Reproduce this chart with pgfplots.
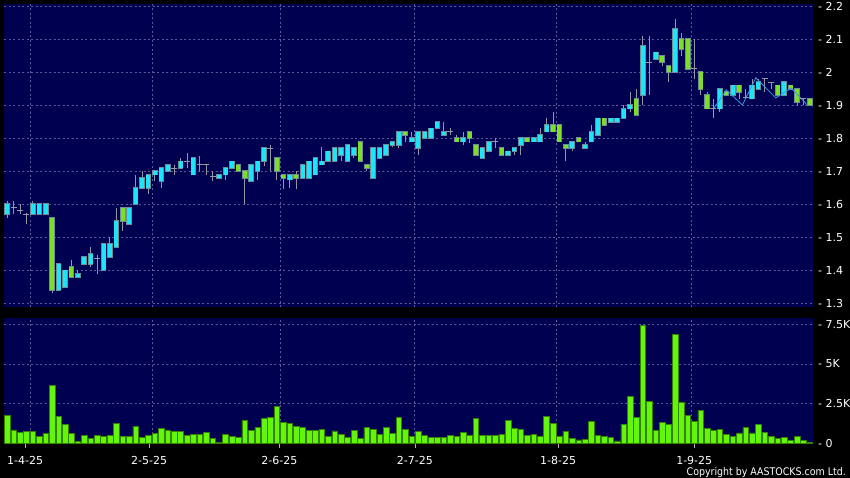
\documentclass[border=0pt]{standalone}
\usepackage{pgfplots}
\pgfplotsset{compat=1.18}
\usepackage{pgfplotstable}
\usepackage{fontspec}
\usepackage{graphicx}
\setmainfont{DejaVu Sans}
\definecolor{navy}{RGB}{0,0,80}
\definecolor{gridc}{RGB}{90,90,155}
\definecolor{cyanfill}{RGB}{30,228,248}
\definecolor{greenfill}{RGB}{125,222,40}
\definecolor{boxedge}{RGB}{110,140,150}
\definecolor{wick}{RGB}{150,150,165}
\definecolor{volfill}{RGB}{100,245,10}
\definecolor{voledge}{RGB}{50,130,0}
\definecolor{linec}{RGB}{60,150,230}

\pgfplotstableread{
i l h
0 1.56 1.61
1 1.57 1.61
2 1.57 1.60
3 1.54 1.575
4 1.57 1.61
5 1.57 1.60
6 1.57 1.60
7 1.33 1.56
8 1.34 1.42
9 1.35 1.40
10 1.38 1.43
11 1.38 1.40
12 1.42 1.44
13 1.41 1.47
14 1.39 1.445
15 1.40 1.48
16 1.44 1.50
17 1.47 1.59
18 1.52 1.59
19 1.54 1.59
20 1.60 1.69
21 1.65 1.70
22 1.63 1.69
23 1.67 1.70
24 1.65 1.71
25 1.70 1.72
26 1.69 1.72
27 1.71 1.74
28 1.71 1.755
29 1.69 1.74
30 1.70 1.745
31 1.69 1.72
32 1.67 1.70
33 1.68 1.69
34 1.675 1.71
35 1.71 1.73
36 1.70 1.72
37 1.60 1.70
38 1.67 1.72
39 1.675 1.73
40 1.715 1.77
41 1.70 1.78
42 1.675 1.74
43 1.645 1.69
44 1.65 1.69
45 1.645 1.70
46 1.68 1.72
47 1.68 1.73
48 1.69 1.74
49 1.72 1.775
50 1.73 1.76
51 1.73 1.77
52 1.73 1.77
53 1.73 1.78
54 1.74 1.77
55 1.73 1.79
56 1.70 1.72
57 1.68 1.77
58 1.74 1.77
59 1.75 1.78
60 1.775 1.79
61 1.77 1.82
62 1.79 1.82
63 1.79 1.82
64 1.75 1.82
65 1.80 1.82
66 1.80 1.83
67 1.83 1.85
68 1.81 1.85
69 1.81 1.83
70 1.79 1.81
71 1.78 1.82
72 1.785 1.82
73 1.75 1.78
74 1.74 1.77
75 1.76 1.79
76 1.77 1.80
77 1.75 1.77
78 1.75 1.76
79 1.75 1.77
80 1.75 1.80
81 1.79 1.80
82 1.79 1.80
83 1.79 1.83
84 1.82 1.86
85 1.82 1.88
86 1.79 1.84
87 1.73 1.78
88 1.76 1.79
89 1.79 1.80
90 1.77 1.79
91 1.79 1.84
92 1.81 1.86
93 1.84 1.86
94 1.85 1.86
95 1.85 1.86
96 1.86 1.90
97 1.88 1.94
98 1.87 1.95
99 1.90 2.11
100 1.93 2.11
101 2.04 2.06
102 2.02 2.05
103 1.97 2.02
104 2.00 2.16
105 2.05 2.12
106 2.01 2.10
107 1.98 2.10
108 1.93 2.00
109 1.89 1.94
110 1.86 1.92
111 1.88 1.95
112 1.93 1.94
113 1.93 1.96
114 1.92 1.96
115 1.92 1.95
116 1.92 1.98
117 1.95 1.98
118 1.94 1.98
119 1.95 1.97
120 1.93 1.96
121 1.93 1.97
122 1.95 1.96
123 1.90 1.95
124 1.90 1.92
125 1.90 1.92
}\wicks

\pgfplotstableread{
i lo hi
0 1.57 1.60
4 1.57 1.60
5 1.57 1.60
6 1.57 1.60
8 1.34 1.42
9 1.35 1.40
11 1.38 1.39
12 1.42 1.44
13 1.42 1.45
15 1.40 1.48
16 1.44 1.48
17 1.47 1.55
19 1.54 1.59
20 1.60 1.65
21 1.65 1.68
22 1.65 1.69
23 1.69 1.70
24 1.67 1.71
25 1.70 1.72
27 1.71 1.73
29 1.69 1.74
33 1.68 1.69
34 1.69 1.71
35 1.71 1.73
38 1.67 1.72
39 1.70 1.73
40 1.73 1.77
44 1.675 1.69
46 1.68 1.72
47 1.68 1.73
48 1.69 1.74
49 1.72 1.73
50 1.73 1.76
51 1.73 1.77
52 1.75 1.77
53 1.73 1.78
54 1.75 1.77
57 1.68 1.77
58 1.74 1.77
59 1.75 1.78
60 1.78 1.79
61 1.78 1.82
63 1.79 1.80
64 1.77 1.82
65 1.80 1.82
66 1.80 1.83
67 1.83 1.85
68 1.81 1.82
71 1.79 1.80
74 1.74 1.77
75 1.76 1.79
78 1.75 1.76
79 1.76 1.77
80 1.78 1.80
82 1.79 1.80
83 1.79 1.81
84 1.82 1.84
88 1.77 1.79
90 1.77 1.78
91 1.79 1.82
92 1.81 1.86
94 1.85 1.86
95 1.85 1.86
96 1.86 1.89
97 1.89 1.90
99 1.93 2.08
101 2.04 2.06
104 2.00 2.13
111 1.89 1.95
113 1.93 1.96
116 1.92 1.96
117 1.95 1.97
121 1.93 1.97
}\up

\pgfplotstableread{
i lo hi
7 1.34 1.56
10 1.38 1.41
18 1.55 1.59
36 1.70 1.72
37 1.68 1.70
42 1.70 1.74
43 1.68 1.69
45 1.68 1.69
55 1.73 1.79
56 1.71 1.72
62 1.81 1.82
70 1.79 1.80
72 1.80 1.82
73 1.75 1.78
77 1.75 1.77
81 1.79 1.80
85 1.82 1.84
86 1.79 1.84
87 1.77 1.78
89 1.79 1.80
93 1.84 1.86
98 1.87 1.92
102 2.03 2.05
103 2.00 2.02
105 2.07 2.10
106 2.01 2.10
108 1.95 2.00
109 1.89 1.93
112 1.93 1.94
114 1.94 1.96
120 1.93 1.96
122 1.95 1.96
123 1.91 1.95
125 1.90 1.92
}\down

\pgfplotstableread{
i v
1 1.59
2 1.58
3 1.57
14 1.435
26 1.71
28 1.73
30 1.72
31 1.72
32 1.685
41 1.77
69 1.82
76 1.79
100 2.03
107 2.01
110 1.89
115 1.925
118 1.98
119 1.97
124 1.92
}\doji

\pgfplotstableread{
i v
0 1780
1 840
2 670
3 775
4 775
5 420
6 630
7 3630
8 1720
9 1215
10 605
11 100
12 480
13 290
14 523
15 417
16 500
17 1234
18 417
19 440
20 1090
21 378
22 523
23 630
24 945
25 837
26 756
27 775
28 480
29 586
30 586
31 693
32 334
33 50
34 565
35 458
36 355
37 1424
38 837
39 1026
40 1550
41 1612
42 2349
43 1300
44 1234
45 1045
46 982
47 819
48 798
49 861
50 460
51 777
52 565
53 355
54 798
55 313
56 1026
57 899
58 565
59 982
60 605
61 1637
62 899
63 417
64 775
65 480
66 395
67 395
68 375
69 480
70 417
71 693
72 480
73 1574
74 523
75 523
76 500
77 586
78 1467
79 963
80 899
81 500
82 565
83 417
84 1719
85 1276
86 417
87 756
88 320
89 208
90 270
91 1404
92 523
93 458
94 355
95 145
96 1215
97 2978
98 1637
99 7450
100 2620
101 837
102 1297
103 1192
104 6864
105 2580
106 1782
107 1383
108 2097
109 920
110 837
111 899
112 565
113 440
114 651
115 982
116 651
117 1215
118 693
119 458
120 290
121 395
122 165
123 417
124 186
125 60
}\vol

\pgfplotsset{
  panel/.style={
    scale only axis, width=809pt,
    xmin=-0.5, xmax=125.5,
    axis background/.style={fill=navy},
    axis line style={draw=none},
    grid=major,
    grid style={gridc, dash pattern=on 2pt off 2.5pt, line width=0.55pt},
    xtick={3.58,22.55,42.46,63.45,85.5,106.5},
    xticklabels={},
    ytick style={draw=none},
    yticklabel pos=right,
    xtick pos=lower,
    scaled y ticks=false,
    tick label style={font=\fontsize{11}{13}\selectfont, text=white},
    yticklabel style={anchor=west, inner sep=0pt, xshift=5pt},
  }
}

\begin{document}
\begin{tikzpicture}[x=1pt,y=1pt]
\fill[black] (0,0) rectangle (850,-478);
\path[use as bounding box] (0,0) rectangle (850,-478);

\begin{axis}[panel,
  at={(4pt,-4.5pt)}, anchor=north west, height=302.5pt,
  xtick style={draw=none},
  ymin=1.289, ymax=2.205,
  ytick={1.3,1.4,1.5,1.6,1.7,1.8,1.9,2.0,2.1,2.2},
  yticklabels={- 1.3,- 1.4,- 1.5,- 1.6,- 1.7,- 1.8,- 1.9,- 2,- 2.1,- 2.2},
]
\addplot[draw=none, forget plot, error bars/.cd, y dir=plus, y explicit, error mark=none,
  error bar style={draw=wick, line width=0.9pt}]
  table[x=i, y=l, y error expr=\thisrow{h}-\thisrow{l}] {\wicks};
\addplot[only marks, mark=-, mark size=3pt, mark options={draw=wick, line width=0.9pt}]
  table[x=i, y=v] {\doji};
\addplot[draw=none, forget plot, error bars/.cd, y dir=plus, y explicit, error mark=none,
  error bar style={draw=boxedge, line width=5.6pt}]
  table[x=i, y expr=\thisrow{lo}-0.0025, y error expr=\thisrow{hi}-\thisrow{lo}+0.005] {\up};
\addplot[draw=none, forget plot, error bars/.cd, y dir=plus, y explicit, error mark=none,
  error bar style={draw=cyanfill, line width=4pt}]
  table[x=i, y=lo, y error expr=\thisrow{hi}-\thisrow{lo}] {\up};
\addplot[draw=none, forget plot, error bars/.cd, y dir=plus, y explicit, error mark=none,
  error bar style={draw=boxedge, line width=5.6pt}]
  table[x=i, y expr=\thisrow{lo}-0.0025, y error expr=\thisrow{hi}-\thisrow{lo}+0.005] {\down};
\addplot[draw=none, forget plot, error bars/.cd, y dir=plus, y explicit, error mark=none,
  error bar style={draw=greenfill, line width=4pt}]
  table[x=i, y=lo, y error expr=\thisrow{hi}-\thisrow{lo}] {\down};
\addplot[linec, line width=0.8pt] coordinates {
  (110.1,1.892) (112.0,1.946) (114.5,1.901) (116.6,1.983) (119.7,1.922) (122.1,1.952) (124.6,1.901)};
\end{axis}

\begin{axis}[panel,
  at={(4pt,-318pt)}, anchor=north west, height=125.3pt,
  ymin=0, ymax=7897,
  ytick={0,2500,5000,7500},
  yticklabels={- 0,- 2.5K,- 5K,- 7.5K},
  major tick length=0pt,
  xtick style={draw=white!70!black, line width=0.8pt},
  extra x ticks={2.8,22.1,42.4,63.5,85.8,107.0},
  extra x tick labels={1-4-25,2-5-25,2-6-25,2-7-25,1-8-25,1-9-25},
  extra x tick style={grid=none, major tick length=4.5pt, tick align=outside},
  xticklabel style={anchor=north, inner sep=0pt, yshift=-8.5pt},
]
\addplot[ybar, bar width=0.88, fill=volfill, draw=voledge, line width=0.5pt]
  table[x=i, y=v] {\vol};
\end{axis}

\node[anchor=base east, text=white, inner sep=0pt] at (846,-475)
  {\scalebox{0.9}[1]{\fontsize{10.5}{12}\selectfont Copyright by AASTOCKS.com Ltd.}};
\end{tikzpicture}
\end{document}
